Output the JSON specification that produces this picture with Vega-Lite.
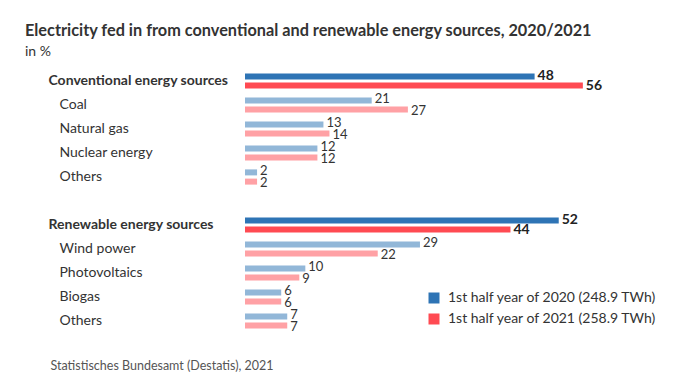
{
  "$schema": "https://vega.github.io/schema/vega-lite/v6.json",
  "width": 362,
  "height": 264,
  "padding": {"left": 25, "top": 22, "right": 5, "bottom": 5},
  "background": "white",
  "config": {"view": {"stroke": null}, "font": "Lato"},
  "title": {
    "text": "Electricity fed in from conventional and renewable energy sources, 2020/2021",
    "subtitle": "in %",
    "anchor": "start",
    "frame": "group",
    "dx": -220,
    "offset": 10,
    "font": "Lato",
    "fontSize": 16.3,
    "fontWeight": "bold",
    "color": "#333333",
    "subtitleFont": "Lato",
    "subtitleFontSize": 14,
    "subtitleColor": "#333333",
    "subtitlePadding": 6
  },
  "data": {
    "values": [
      {"key": "Conventional energy sources", "level": "total", "year": "1st half year of 2020 (248.9 TWh)", "value": 48},
      {"key": "Conventional energy sources", "level": "total", "year": "1st half year of 2021 (258.9 TWh)", "value": 56},
      {"key": "Coal", "level": "sub", "year": "1st half year of 2020 (248.9 TWh)", "value": 21},
      {"key": "Coal", "level": "sub", "year": "1st half year of 2021 (258.9 TWh)", "value": 27},
      {"key": "Natural gas", "level": "sub", "year": "1st half year of 2020 (248.9 TWh)", "value": 13},
      {"key": "Natural gas", "level": "sub", "year": "1st half year of 2021 (258.9 TWh)", "value": 14},
      {"key": "Nuclear energy", "level": "sub", "year": "1st half year of 2020 (248.9 TWh)", "value": 12},
      {"key": "Nuclear energy", "level": "sub", "year": "1st half year of 2021 (258.9 TWh)", "value": 12},
      {"key": "Others|c", "level": "sub", "year": "1st half year of 2020 (248.9 TWh)", "value": 2},
      {"key": "Others|c", "level": "sub", "year": "1st half year of 2021 (258.9 TWh)", "value": 2},
      {"key": "Renewable energy sources", "level": "total", "year": "1st half year of 2020 (248.9 TWh)", "value": 52},
      {"key": "Renewable energy sources", "level": "total", "year": "1st half year of 2021 (258.9 TWh)", "value": 44},
      {"key": "Wind power", "level": "sub", "year": "1st half year of 2020 (248.9 TWh)", "value": 29},
      {"key": "Wind power", "level": "sub", "year": "1st half year of 2021 (258.9 TWh)", "value": 22},
      {"key": "Photovoltaics", "level": "sub", "year": "1st half year of 2020 (248.9 TWh)", "value": 10},
      {"key": "Photovoltaics", "level": "sub", "year": "1st half year of 2021 (258.9 TWh)", "value": 9},
      {"key": "Biogas", "level": "sub", "year": "1st half year of 2020 (248.9 TWh)", "value": 6},
      {"key": "Biogas", "level": "sub", "year": "1st half year of 2021 (258.9 TWh)", "value": 6},
      {"key": "Others|r", "level": "sub", "year": "1st half year of 2020 (248.9 TWh)", "value": 7},
      {"key": "Others|r", "level": "sub", "year": "1st half year of 2021 (258.9 TWh)", "value": 7}
    ]
  },
  "encoding": {
    "y": {
      "field": "key",
      "type": "nominal",
      "sort": null,
      "scale": {
        "domain": ["Conventional energy sources", "Coal", "Natural gas", "Nuclear energy", "Others|c", "gap", "Renewable energy sources", "Wind power", "Photovoltaics", "Biogas", "Others|r"],
        "paddingInner": 0,
        "paddingOuter": 0
      },
      "axis": {
        "title": null,
        "domain": false,
        "ticks": false,
        "tickSize": 0,
        "grid": false,
        "labelAlign": "left",
        "labelBaseline": "middle",
        "labelFont": "Lato",
        "labelFontSize": 14,
        "labelColor": "#333333",
        "labelLimit": 0,
        "labelPadding": {"condition": {"test": "datum.value == 'Conventional energy sources' || datum.value == 'Renewable energy sources'", "value": 197}, "value": 186},
        "labelFontWeight": {"condition": {"test": "datum.value == 'Conventional energy sources' || datum.value == 'Renewable energy sources'", "value": "bold"}, "value": "normal"},
        "labelExpr": "datum.value == 'gap' ? '' : split(datum.value, '|')[0]"
      }
    },
    "yOffset": {
      "field": "year",
      "type": "nominal",
      "scale": {"paddingInner": 0.348, "paddingOuter": 0.478}
    },
    "x": {
      "field": "value",
      "type": "quantitative",
      "scale": {"domain": [0, 60]},
      "axis": {
        "domain": false,
        "ticks": false,
        "labels": false,
        "grid": false,
        "title": "Statistisches Bundesamt (Destatis), 2021",
        "titleAlign": "left",
        "titleAnchor": "start",
        "titleX": -195,
        "titleY": 36,
        "titleBaseline": "alphabetic",
        "titleFont": "Lato",
        "titleFontSize": 12.5,
        "titleFontWeight": "normal",
        "titleColor": "#555555"
      }
    }
  },
  "layer": [
    {
      "mark": {"type": "bar"},
      "encoding": {
        "color": {
          "field": "year",
          "type": "nominal",
          "scale": {"domain": ["1st half year of 2020 (248.9 TWh)", "1st half year of 2021 (258.9 TWh)"], "range": ["#2e74b5", "#ff4a52"]},
          "legend": {
            "title": null,
            "orient": "none",
            "legendX": 182,
            "legendY": 222,
            "symbolType": "square",
            "symbolSize": 121,
            "symbolStrokeWidth": 0,
            "symbolOpacity": 1,
            "labelFont": "Lato",
            "labelFontSize": 14,
            "labelColor": "#333333",
            "labelOffset": 7,
            "rowPadding": 7,
            "labelLimit": 0
          }
        },
        "opacity": {"condition": {"test": "datum.level == 'total'", "value": 1}, "value": 0.52}
      }
    },
    {
      "transform": [{"filter": "datum.level == 'total'"}],
      "mark": {"type": "text", "align": "left", "baseline": "middle", "dx": 3, "font": "Lato", "fontSize": 14, "fontWeight": "bold", "color": "#222222"},
      "encoding": {"text": {"field": "value", "type": "quantitative"}}
    },
    {
      "transform": [{"filter": "datum.level == 'sub' && indexof(datum.year, '2020') >= 0"}],
      "mark": {"type": "text", "align": "left", "baseline": "middle", "dx": 3, "dy": -1, "font": "Lato", "fontSize": 13, "color": "#333333"},
      "encoding": {"text": {"field": "value", "type": "quantitative"}}
    },
    {
      "transform": [{"filter": "datum.level == 'sub' && indexof(datum.year, '2021') >= 0"}],
      "mark": {"type": "text", "align": "left", "baseline": "middle", "dx": 3, "dy": 1, "font": "Lato", "fontSize": 13, "color": "#333333"},
      "encoding": {"text": {"field": "value", "type": "quantitative"}}
    }
  ]
}
